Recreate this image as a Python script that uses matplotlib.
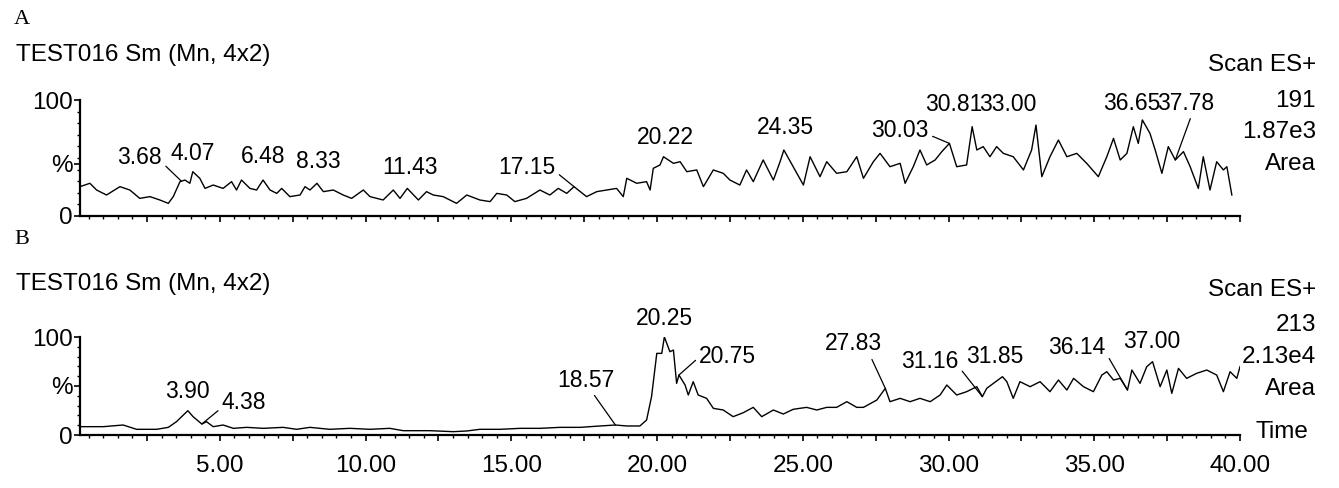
import numpy as np
import matplotlib
matplotlib.use("Agg")
import matplotlib.pyplot as plt
from matplotlib import font_manager
from matplotlib.ticker import MultipleLocator, FuncFormatter

# MassLynx printouts use Arial Narrow; use the Liberation clone if present
installed = {f.name for f in font_manager.fontManager.ttflist}
if "Liberation Sans Narrow" in installed:
    FONT, FS, FS_LAB = "Liberation Sans Narrow", 21, 21
else:
    FONT, FS, FS_LAB = "Liberation Sans", 17.5, 16.5
plt.rcParams["font.family"] = [FONT, "DejaVu Sans"]

# ---- panel A trace: retention time (min) / relative intensity (%)
time_a = [0.20, 0.54, 0.77, 1.11, 1.57, 1.91, 2.25, 2.60, 2.94, 3.23, 3.40, 3.63, 3.80, 3.97,
          4.07, 4.31, 4.49, 4.77, 5.11, 5.40, 5.57, 5.74, 6.03, 6.26, 6.48, 6.72, 6.95, 7.12,
          7.40, 7.75, 7.92, 8.09, 8.33, 8.55, 8.89, 9.23, 9.52, 9.92, 10.15, 10.60, 10.95,
          11.18, 11.43, 11.81, 12.09, 12.32, 12.66, 13.12, 13.47, 13.92, 14.27, 14.50, 14.84,
          15.12, 15.52, 15.98, 16.32, 16.61, 16.90, 17.15, 17.58, 17.93, 18.27, 18.61, 18.84,
          18.96, 19.30, 19.64, 19.76, 19.87, 20.10, 20.22, 20.56, 20.79, 21.02, 21.36, 21.59,
          21.93, 22.27, 22.50, 22.84, 23.07, 23.30, 23.64, 23.99, 24.22, 24.35, 24.67, 25.02,
          25.25, 25.59, 25.82, 26.16, 26.51, 26.85, 27.08, 27.42, 27.65, 27.99, 28.34, 28.51,
          28.79, 29.02, 29.25, 29.54, 29.77, 30.03, 30.28, 30.62, 30.81, 30.97, 31.19, 31.42,
          31.65, 31.88, 32.22, 32.57, 32.85, 33.00, 33.20, 33.48, 33.77, 34.06, 34.40, 34.74,
          35.14, 35.43, 35.66, 35.89, 36.12, 36.34, 36.51, 36.65, 36.91, 37.09, 37.32, 37.54,
          37.78, 38.06, 38.29, 38.57, 38.74, 38.97, 39.20, 39.43, 39.55, 39.72]
int_a = [25.3, 28.2, 22.4, 18.1, 25.3, 22.4, 15.2, 16.7, 13.8, 10.9, 16.7, 29.6, 31.0, 28.2,
         38.2, 32.5, 23.8, 26.7, 23.8, 29.6, 22.4, 31.0, 23.8, 22.4, 31.0, 22.4, 19.5, 23.8,
         16.7, 18.1, 25.3, 22.4, 28.2, 21.0, 22.4, 18.1, 15.2, 22.4, 16.7, 13.8, 22.4,
         15.2, 23.8, 13.8, 21.0, 18.1, 16.7, 10.9, 18.1, 13.8, 12.4, 19.5, 18.1,
         12.4, 15.2, 22.4, 18.1, 23.8, 19.5, 25.3, 16.7, 21.0, 22.4, 23.8, 16.7,
         32.5, 28.2, 29.6, 22.4, 41.1, 44.0, 51.1, 45.4, 46.8, 38.2, 39.7, 25.3,
         39.7, 36.8, 31.0, 26.7, 39.7, 29.6, 48.3, 31.0, 46.8, 56.9, 42.5, 26.7,
         51.1, 33.9, 46.8, 36.8, 38.2, 51.1, 32.5, 46.8, 54.0, 42.5, 45.4, 28.2,
         42.5, 56.9, 44.0, 48.3, 55.5, 62.6, 42.5, 44.0, 77.0, 56.9, 59.8, 51.1,
         59.8, 54.0, 51.1, 39.7, 56.9, 78.4, 33.9, 51.1, 65.5, 51.1, 54.0, 45.4,
         33.9, 51.1, 66.9, 48.3, 54.0, 77.0, 62.6, 82.8, 71.3, 56.9, 36.8, 59.8,
         48.3, 55.5, 42.5, 23.8, 51.1, 22.4, 46.8, 39.7, 42.5, 18.1]

# ---- panel B trace
time_b = [0.20, 1.00, 1.68, 2.14, 2.83, 3.23, 3.51, 3.90, 4.08, 4.38, 4.54, 4.77, 5.11, 5.46,
          5.92, 6.49, 7.17, 7.63, 8.09, 8.77, 9.46, 10.15, 10.83, 11.29, 12.21, 13.01, 13.47,
          13.92, 14.61, 15.30, 15.98, 16.67, 17.36, 18.04, 18.57, 18.96, 19.41, 19.64, 19.81,
          19.99, 20.16, 20.25, 20.44, 20.56, 20.67, 20.75, 20.96, 21.07, 21.24, 21.41, 21.70,
          21.93, 22.27, 22.61, 22.96, 23.30, 23.59, 23.99, 24.33, 24.67, 25.13, 25.48, 25.82,
          26.16, 26.51, 26.85, 27.08, 27.54, 27.83, 27.99, 28.34, 28.68, 29.02, 29.37, 29.71,
          29.94, 30.28, 30.62, 30.97, 31.16, 31.31, 31.54, 31.85, 32.00, 32.22, 32.45, 32.80,
          33.14, 33.48, 33.77, 34.06, 34.29, 34.63, 34.97, 35.26, 35.43, 35.66, 35.89, 36.14,
          36.29, 36.57, 36.80, 37.00, 37.26, 37.49, 37.66, 37.89, 38.17, 38.51, 38.86, 39.20,
          39.43, 39.66, 39.89, 40.00]
int_b = [8.5, 8.5, 10.2, 5.8, 5.8, 7.8, 13.6, 24.8, 18.7, 11.2, 13.6, 8.5, 10.2, 6.8,
         7.8, 6.8, 7.8, 5.8, 7.8, 5.8, 6.8, 5.8, 6.8, 4.4, 4.4, 3.4, 4.1,
         5.8, 5.8, 6.8, 6.8, 7.8, 7.8, 9.2, 10.2, 9.2, 9.2, 15.3, 39.1,
         83.3, 83.3, 100.0, 85.0, 86.7, 52.7, 61.2, 51.0, 40.8, 54.4, 40.8, 37.4,
         27.2, 25.5, 18.7, 22.8, 28.2, 18.7, 25.5, 21.4, 26.2, 28.2, 25.5, 28.2,
         28.2, 34.0, 28.2, 28.2, 35.7, 47.6, 34.0, 37.4, 34.0, 37.4, 34.0, 40.8,
         51.0, 40.8, 44.2, 49.3, 39.1, 47.6, 52.7, 59.5, 54.4, 37.4, 54.4, 49.3,
         54.4, 44.2, 56.1, 45.9, 57.8, 49.3, 44.2, 61.2, 64.6, 56.1, 57.8, 45.9,
         66.3, 52.7, 69.7, 74.8, 49.3, 66.3, 42.5, 68.0, 57.8, 62.9, 66.3, 61.2,
         44.2, 64.6, 57.8, 69.7]

# labelled peaks
peaks_a = [3.68, 4.07, 6.48, 8.33, 11.43, 17.15, 20.22, 24.35, 30.03, 30.81, 33.00, 36.65, 37.78]
peaks_b = [3.90, 4.38, 18.57, 20.25, 20.75, 27.83, 31.16, 31.85, 36.14, 37.00]

# label text position (time, %) and leader anchor on the text (None = no leader)
lab_a = [(2.25, 50.0, (1.0, 0.3)), (4.07, 54.3, None), (6.47, 50.9, None), (8.36, 46.6, None),
         (11.52, 41.4, None), (15.53, 42.2, (1.0, 0.3)), (20.27, 68.1, None), (24.39, 75.9, None),
         (28.33, 74.1, (1.0, 0.3)), (30.17, 95.7, None), (32.02, 95.7, None), (36.30, 97.4, None),
         (38.15, 97.4, (0.6, 0.0))]
lab_b = [(3.87, 43.9, None), (5.83, 32.7, (0.0, 0.3)), (17.56, 56.1, (0.6, 0.0)),
         (20.24, 119.0, None), (22.43, 79.6, (0.0, 0.5)), (26.72, 92.9, (0.8, 0.0)),
         (29.36, 74.5, (1.0, 0.3)), (31.60, 79.6, None), (34.41, 88.8, (1.0, 0.3)),
         (36.98, 94.9, None)]

W, H = 1339, 488
fig = plt.figure(figsize=(W / 100, H / 100), dpi=100)


def px(x, y):
    return x / W, 1 - y / H


def panel(rect, t, y, peaks, labs, pct_at, show_x):
    ax = fig.add_axes(rect)
    ax.plot(t, y, color="black", lw=1.0)
    ax.set_xlim(0.2, 40.0)
    ax.set_ylim(0, 100)
    for s in ("top", "right"):
        ax.spines[s].set_visible(False)
    for s in ("left", "bottom"):
        ax.spines[s].set_linewidth(1.6)
    ax.xaxis.set_major_locator(MultipleLocator(2.5))
    ax.xaxis.set_minor_locator(MultipleLocator(0.5))
    ax.xaxis.set_major_formatter(FuncFormatter(
        lambda v, p: f"{v:.2f}" if v > 0 and abs(v / 5 - round(v / 5)) < 1e-6 else ""))
    ax.set_yticks([0, pct_at, 100])
    ax.set_yticklabels(["0", "%", "100"])
    ax.yaxis.set_minor_locator(MultipleLocator(10))
    ax.tick_params(axis="x", which="major", length=4.5, width=1.2, pad=10,
                   labelsize=FS, labelbottom=show_x)
    ax.tick_params(axis="x", which="minor", length=2.5, width=1.0)
    ax.tick_params(axis="y", which="major", length=4, width=1.2, pad=1, labelsize=FS)
    ax.tick_params(axis="y", which="minor", length=2.5, width=1.0)
    for pk, (tx, ty, rp) in zip(peaks, labs):
        arrow = None
        if rp is not None:
            arrow = dict(arrowstyle="-", lw=0.9, color="black", shrinkA=1, shrinkB=0, relpos=rp)
        ax.annotate(f"{pk:.2f}", xy=(pk, np.interp(pk, t, y)), xytext=(tx, ty),
                    ha="center", va="center", fontsize=FS_LAB, annotation_clip=False,
                    arrowprops=arrow)
    return ax


ax_a = panel([80 / W, 1 - 216 / H, 1160 / W, 116 / H], time_a, int_a, peaks_a, lab_a, 45, False)
ax_b = panel([80 / W, 1 - 435 / H, 1160 / W, 98 / H], time_b, int_b, peaks_b, lab_b, 50, True)

# panel letters and headers
fig.text(*px(14, 20), "A", family="Liberation Serif", fontsize=16, va="center")
fig.text(*px(14, 240), "B", family="Liberation Serif", fontsize=16, va="center")
fig.text(*px(16, 55), "TEST016 Sm (Mn, 4x2)", fontsize=FS, va="center")
fig.text(*px(16, 284), "TEST016 Sm (Mn, 4x2)", fontsize=FS, va="center")

right_a = [("Scan ES+", 65), ("191", 101), ("1.87e3", 132), ("Area", 164)]
right_b = [("Scan ES+", 290), ("213", 325), ("2.13e4", 357), ("Area", 389)]
for txt, yy in right_a + right_b:
    fig.text(*px(1316, yy), txt, fontsize=FS, ha="right", va="center")
fig.text(*px(1256, 432), "Time", fontsize=FS, ha="left", va="center")

fig.savefig("out.png", dpi=100)
